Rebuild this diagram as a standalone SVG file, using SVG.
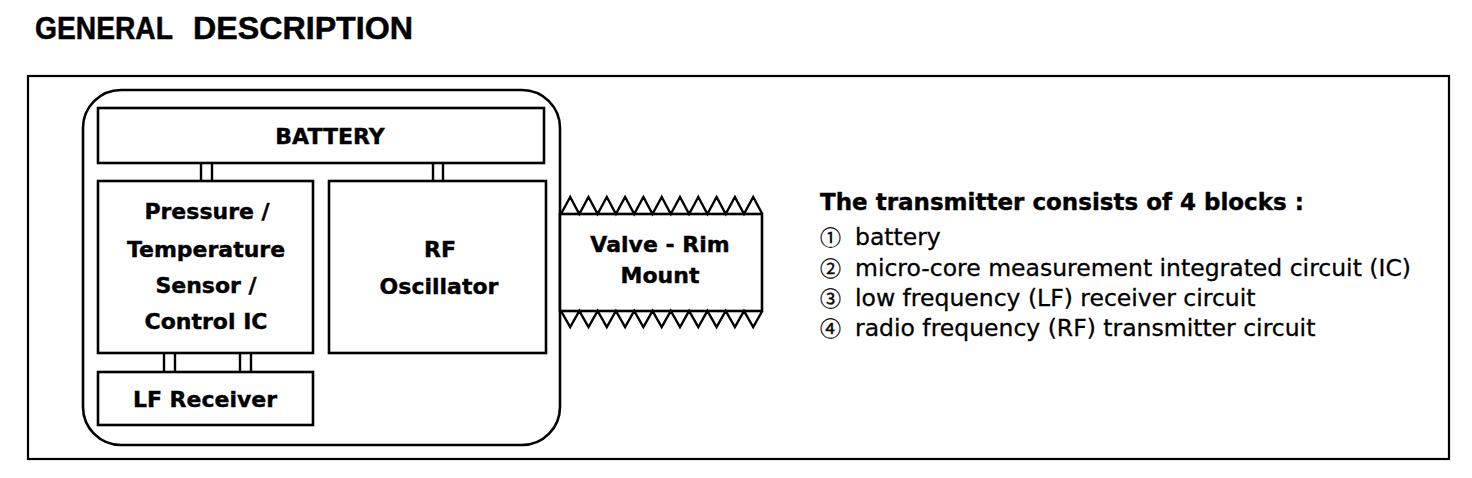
<svg xmlns="http://www.w3.org/2000/svg" width="1472" height="478" viewBox="0 0 1472 478">
<style>
.box{fill:#fff;stroke:#000;stroke-width:2.6}
.lbl{font-family:"DejaVu Sans",sans-serif;font-weight:bold;font-size:22px;fill:#000;stroke:#000;stroke-width:0.4;text-anchor:middle}
.head{font-family:"DejaVu Sans",sans-serif;font-weight:bold;font-size:23px;fill:#000;stroke:#000;stroke-width:0.4}
.item{font-family:"DejaVu Sans",sans-serif;font-size:23.5px;fill:#000;stroke:#000;stroke-width:0.3}
.num{font-family:"Noto Sans CJK JP","DejaVu Sans",sans-serif;font-size:21px;fill:#000;stroke:#000;stroke-width:0.3}
.title{font-family:"Liberation Sans",Arial,sans-serif;font-weight:bold;font-size:31px;fill:#000;stroke:#000;stroke-width:0.5}
.con{stroke:#000;stroke-width:2.4;fill:none}
.zig{fill:none;stroke:#000;stroke-width:2.4;stroke-linejoin:miter}
</style>
<rect width="1472" height="478" fill="#fff"/>
<text class="title" x="35" y="39" textLength="138" lengthAdjust="spacingAndGlyphs">GENERAL</text>
<text class="title" x="193" y="39" textLength="220" lengthAdjust="spacingAndGlyphs">DESCRIPTION</text>
<rect x="28" y="76" width="1421" height="383" fill="none" stroke="#000" stroke-width="2.2"/>
<g id="transmitter">
<rect class="box" x="83" y="90" width="477" height="355" rx="38" ry="38" stroke-width="3"/>
</g>
<g id="connectors">
<line class="con" x1="201" y1="163" x2="201" y2="181"/>
<line class="con" x1="212" y1="163" x2="212" y2="181"/>
<line class="con" x1="433" y1="163" x2="433" y2="181"/>
<line class="con" x1="443" y1="163" x2="443" y2="181"/>
<line class="con" x1="164" y1="353" x2="164" y2="372"/>
<line class="con" x1="175" y1="353" x2="175" y2="372"/>
<line class="con" x1="240" y1="353" x2="240" y2="372"/>
<line class="con" x1="251" y1="353" x2="251" y2="372"/>
</g>
<g id="battery">
<rect class="box" x="98" y="108" width="446" height="55"/>
<text class="lbl" x="330" y="144" font-size="23">BATTERY</text>
</g>
<g id="sensor">
<rect class="box" x="98" y="181" width="215" height="172"/>
<text class="lbl" x="207" y="219">Pressure /</text>
<text class="lbl" x="206" y="257">Temperature</text>
<text class="lbl" x="206" y="293">Sensor /</text>
<text class="lbl" x="206" y="329">Control IC</text>
</g>
<g id="rf">
<rect class="box" x="329" y="181" width="217" height="172"/>
<text class="lbl" x="440" y="257">RF</text>
<text class="lbl" x="439" y="294">Oscillator</text>
</g>
<g id="lf">
<rect class="box" x="98" y="372" width="215" height="53"/>
<text class="lbl" x="205" y="407">LF Receiver</text>
</g>
<g id="valve">
<rect class="box" x="560" y="214" width="202" height="97"/>
<polyline class="zig" points="561,214 570.2,197 579.3,214 588.5,197 597.6,214 606.8,197 615.9,214 625.1,197 634.2,214 643.4,197 652.5,214 661.7,197 670.8,214 680,197 689.1,214 698.3,197 707.4,214 716.6,197 725.7,214 734.9,197 744,214 753.2,197 762.3,214"/>
<polyline class="zig" points="561,311 570.2,327 579.3,311 588.5,327 597.6,311 606.8,327 615.9,311 625.1,327 634.2,311 643.4,327 652.5,311 661.7,327 670.8,311 680,327 689.1,311 698.3,327 707.4,311 716.6,327 725.7,311 734.9,327 744,311 753.2,327 762.3,311"/>
<text class="lbl" x="660" y="252">Valve - Rim</text>
<text class="lbl" x="660" y="283">Mount</text>
</g>
<g id="description">
<text class="head" x="820" y="210">The transmitter consists of 4 blocks :</text>
<text class="num" x="820" y="245">①</text>
<text class="item" x="855" y="245">battery</text>
<text class="num" x="820" y="276">②</text>
<text class="item" x="855" y="276">micro-core measurement integrated circuit (IC)</text>
<text class="num" x="820" y="306">③</text>
<text class="item" x="855" y="306">low frequency (LF) receiver circuit</text>
<text class="num" x="820" y="336">④</text>
<text class="item" x="855" y="336">radio frequency (RF) transmitter circuit</text>
</g>
</svg>
